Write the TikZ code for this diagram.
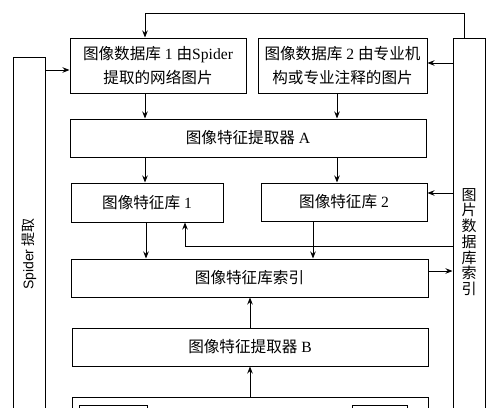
\documentclass[tikz,border=0pt]{standalone}
\usepackage{fontspec}
\setmainfont{Liberation Serif}
\newfontfamily\cjk{Noto Sans CJK SC}
\newfontfamily\sansf{Liberation Sans}
\usetikzlibrary{arrows.meta,calc}
\begin{document}
\begin{tikzpicture}[x=1pt,y=-1pt,
  box/.style={draw,line width=1pt,inner sep=0pt,font=\fontsize{15.6}{24}\selectfont,align=center},
  conn/.style={line width=0.9pt,-{Stealth[length=7pt,width=5.5pt]}},
  plain/.style={line width=0.9pt}]
\clip (0,0) rectangle (500,407);
\fill[white] (0,0) rectangle (500,407);
% boxes
\node[box,minimum width=176pt,minimum height=55pt] (db1) at (158,65.5)
  {{\cjk 图像数据库} 1 {\cjk 由}Spider\\{\cjk 提取的网络图片}};
\node[box,minimum width=169pt,minimum height=55pt] (db2) at (342.5,65.5)
  {{\cjk 图像数据库} 2 {\cjk 由专业机}\\{\cjk 构或专业注释的图片}};
\node[box,minimum width=356pt,minimum height=38pt] (fa) at (248,138)
  {{\cjk 图像特征提取器} A};
\node[box,minimum width=152pt,minimum height=39pt] (lib1) at (147,202.5)
  {{\cjk 图像特征库} 1};
\node[box,minimum width=166pt,minimum height=38pt] (lib2) at (344,202)
  {{\cjk 图像特征库} 2};
\node[box,minimum width=357pt,minimum height=38pt] (idx) at (249.5,278)
  {{\cjk 图像特征库索引}};
\node[box,minimum width=356pt,minimum height=38pt] (fb) at (250,347)
  {{\cjk 图像特征提取器} B};
\node[box,minimum width=356pt,minimum height=60pt] (bot) at (250,427) {};
\node[box,minimum width=68pt,minimum height=30pt] (bin1) at (113,420) {};
\node[box,minimum width=55pt,minimum height=30pt] (bin2) at (379.5,420) {};
\node[box,minimum width=32pt,minimum height=373pt] (spider) at (29,243.5) {};
\node[font=\fontsize{14}{14}\selectfont,rotate=90] (spidertxt) at (29,254)
  {{\sansf Spider} {\cjk 提取}};
\node[box,minimum width=32pt,minimum height=392pt] (right) at (469,234) {};
\node[font=\fontsize{15}{15.7}\selectfont\cjk,align=center] (righttxt) at (469,242)
  {图\\片\\数\\据\\库\\索\\引};
% helper coordinates
\coordinate (xa) at (145,0);
\coordinate (xb) at (337,0);
\coordinate (xc) at (146,0);
\coordinate (xd) at (313,0);
\coordinate (xe) at (185,0);
\coordinate (xf) at (250,0);
\coordinate (xr) at (464,0);
\coordinate (ytop) at (0,13);
\coordinate (y70) at (0,70);
\coordinate (y63) at (0,63);
\coordinate (y193) at (0,193);
\coordinate (y246) at (0,246);
\coordinate (y271) at (0,271);
% connectors
\draw[conn] (right.north -| xr) -- (xr |- ytop) -- (xa |- ytop) -- (db1.north -| xa);
\draw[conn] (spider.east |- y70) -- (db1.west |- y70);
\draw[conn] (right.west |- y63) -- (db2.east |- y63);
\draw[conn] (db1.south -| xa) -- (fa.north -| xa);
\draw[conn] (db2.south -| xb) -- (fa.north -| xb);
\draw[conn] (fa.south -| xa) -- (lib1.north -| xa);
\draw[conn] (fa.south -| xb) -- (lib2.north -| xb);
\draw[conn] (right.west |- y193) -- (lib2.east |- y193);
\draw[conn] (lib1.south -| xc) -- (idx.north -| xc);
\draw[conn] (lib2.south -| xd) -- (idx.north -| xd);
\draw[conn] (right.west |- y246) -- (xe |- y246) -- (lib1.south -| xe);
\draw[conn] (idx.east |- y271) -- (right.west |- y271);
\draw[conn] (fb.north -| xf) -- (idx.south -| xf);
\draw[conn] (bot.north -| xf) -- (fb.south -| xf);
\end{tikzpicture}
\end{document}
